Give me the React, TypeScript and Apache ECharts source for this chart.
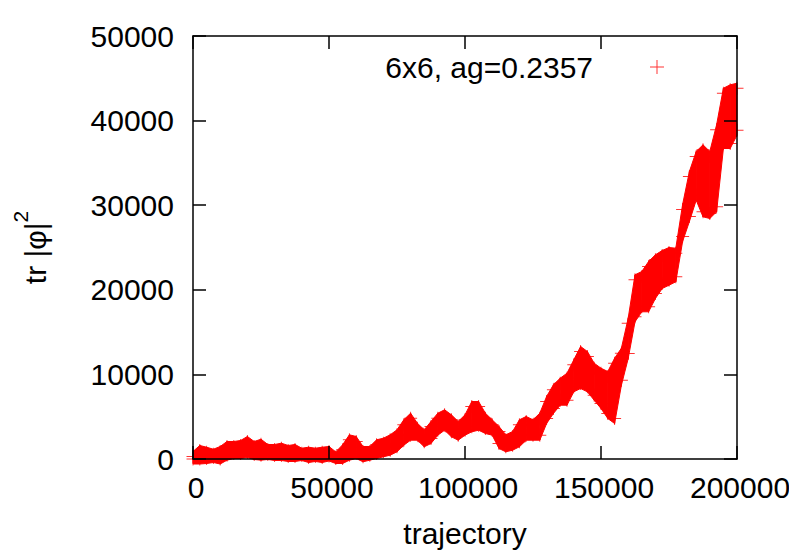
import React, { useEffect, useRef } from "react";
import * as echarts from "echarts";

// trajectory positions (x) sampled along the run
const trajectory = [
  0, 2500, 5000, 7500, 10000, 12500, 15000, 17500, 20000, 22500,
  25000, 27500, 30000, 32500, 35000, 37500, 40000, 42500, 45000, 47500,
  50000, 52500, 55000, 57500, 60000, 62500, 65000, 67500, 70000, 72500,
  75000, 77500, 80000, 82500, 85000, 87500, 90000, 92500, 95000, 97500,
  100000, 102500, 105000, 107500, 110000, 112500, 115000, 117500, 120000, 122500,
  125000, 127500, 130000, 132500, 135000, 137500, 140000, 142500, 145000, 147500,
  150000, 152500, 155000, 157500, 160000, 162500, 165000, 167500, 170000, 172500,
  175000, 177500, 180000, 182500, 185000, 187500, 190000, 192500, 195000, 197500,
  200000,
];

// upper envelope of tr|phi|^2 fluctuations
const upperValues = [
  300, 1005, 804, 567, 887, 1478, 1478, 1596, 2069, 1478,
  1749, 1123, 1123, 1277, 1005, 1123, 686, 804, 686, 804,
  887, 250, 1087, 2269, 2069, 887, 887, 1678, 1868, 2269,
  2860, 4042, 4823, 3641, 2860, 3842, 4823, 5224, 4633, 3842,
  4633, 6205, 6205, 4823, 4042, 3250, 2269, 2660, 4042, 4433,
  4042, 4823, 6797, 8179, 8960, 9551, 11134, 12707, 12116, 10733,
  10142, 9752, 11324, 12506, 16052, 21181, 21572, 22754, 23545, 24054,
  24408, 24326, 29491, 33392, 35756, 36547, 35756, 38911, 43238, 43639,
  43829,
];

// lower envelope of tr|phi|^2 fluctuations
const lowerValues = [
  0, 0, 59, 177, 0, 449, 650, 650, 768, 532,
  449, 532, 414, 414, 296, 296, 414, 177, 296, 177,
  355, 59, 59, 449, 650, 260, 449, 650, 851, 1040,
  1442, 2222, 2813, 2813, 2033, 2423, 3404, 3995, 3215, 2813,
  3404, 3806, 3995, 3605, 3404, 1832, 1442, 1631, 2033, 2813,
  2813, 2813, 4787, 5969, 6950, 6950, 8534, 8924, 8534, 7541,
  6560, 5378, 4787, 9314, 12470, 16808, 17990, 17990, 19562, 20744,
  21134, 21536, 26300, 28664, 31181, 29219, 29018, 29810, 37292, 37292,
  38864,
];

const xTicks = [0, 50000, 100000, 150000, 200000];
const yTicks = [0, 10000, 20000, 30000, 40000, 50000];

const seriesName = "6x6, ag=0.2357";
const RED = "#ff0000";
const FONT = "'Liberation Sans', Arial, Helvetica, sans-serif";
const PLUS = "path://M0,6.5H14V7.5H0Z M6.5,0H7.5V14H6.5Z";

export default function App() {
  const ref = useRef<HTMLDivElement>(null);

  useEffect(() => {
    if (!ref.current) return;
    const chart = echarts.init(ref.current, null, { renderer: "svg" });

    const bandData = trajectory.map((x, i) => [x, lowerValues[i], upperValues[i]]);
    const pointData = trajectory
      .map((x, i) => [x, upperValues[i]])
      .concat(trajectory.map((x, i) => [x, lowerValues[i]]));

    const off = 5;
    const renderItem = (params: any, api: any) => {
      const i = params.dataIndex;
      if (i >= trajectory.length - 1) return null;
      const a = api.coord([trajectory[i], upperValues[i]]);
      const b = api.coord([trajectory[i + 1], upperValues[i + 1]]);
      const c = api.coord([trajectory[i + 1], lowerValues[i + 1]]);
      const d = api.coord([trajectory[i], lowerValues[i]]);
      return {
        type: "polygon",
        shape: {
          points: [
            [a[0], a[1] - off],
            [b[0], b[1] - off],
            [c[0], c[1] + off],
            [d[0], d[1] + off],
          ],
        },
        style: { fill: RED, stroke: RED, lineWidth: 1 },
      };
    };

    const mkLine = () => ({ show: true, onZero: false, lineStyle: { color: "#000", width: 1.5 } });
    const mkTick = () => ({ show: true, inside: true, length: 13, lineStyle: { color: "#000", width: 1.5 } });
    const xMin = xTicks[0];
    const xMax = xTicks[xTicks.length - 1];
    const xInt = xTicks[1] - xTicks[0];
    const yMin = yTicks[0];
    const yMax = yTicks[yTicks.length - 1];
    const yInt = yTicks[1] - yTicks[0];

    chart.setOption({
      animation: false,
      textStyle: { fontFamily: FONT },
      grid: {
        left: 193,
        right: 52,
        top: 36,
        bottom: 93,
        containLabel: false,
        outerBoundsMode: "none",
      },
      legend: {
        data: [{ name: seriesName, icon: PLUS }],
        right: 120,
        top: 47,
        align: "right",
        itemWidth: 14,
        itemHeight: 14,
        selectedMode: false,
        textStyle: { fontSize: 30, color: "#000", fontFamily: FONT, padding: [0, 52, 0, 0] },
      },
      xAxis: [
        {
          type: "value",
          position: "bottom",
          min: xMin,
          max: xMax,
          interval: xInt,
          axisLine: mkLine(),
          axisTick: mkTick(),
          splitLine: { show: false },
          axisLabel: {
            fontSize: 30,
            color: "#000",
            margin: 13,
            padding: [0, 0, 0, 6],
            formatter: (v: number) => String(v),
          },
          name: "trajectory",
          nameLocation: "middle",
          nameGap: 59,
          nameTextStyle: { fontSize: 30, color: "#000" },
          z: 10,
        },
        {
          type: "value",
          position: "top",
          min: xMin,
          max: xMax,
          interval: xInt,
          axisLine: mkLine(),
          axisTick: mkTick(),
          splitLine: { show: false },
          axisLabel: { show: false },
          z: 10,
        },
      ],
      yAxis: [
        {
          type: "value",
          position: "left",
          min: yMin,
          max: yMax,
          interval: yInt,
          axisLine: mkLine(),
          axisTick: mkTick(),
          splitLine: { show: false },
          axisLabel: {
            fontSize: 30,
            color: "#000",
            margin: 19,
            formatter: (v: number) => String(v),
          },
          name: "{m|tr |φ|}{s|2}",
          nameLocation: "middle",
          nameGap: 143,
          nameTextStyle: {
            color: "#000",
            rich: {
              m: { fontSize: 30, color: "#000", verticalAlign: "bottom", lineHeight: 30 },
              s: { fontSize: 21, color: "#000", verticalAlign: "bottom", lineHeight: 21, padding: [0, 0, 19, 0] },
            },
          },
          z: 10,
        },
        {
          type: "value",
          position: "right",
          min: yMin,
          max: yMax,
          interval: yInt,
          axisLine: mkLine(),
          axisTick: mkTick(),
          splitLine: { show: false },
          axisLabel: { show: false },
          z: 10,
        },
      ],
      series: [
        {
          type: "custom",
          name: "band",
          xAxisIndex: 0,
          yAxisIndex: 0,
          renderItem,
          data: bandData,
          encode: { x: 0, y: [1, 2] },
          clip: false,
          silent: true,
          z: 2,
        },
        {
          type: "scatter",
          name: seriesName,
          xAxisIndex: 0,
          yAxisIndex: 0,
          symbol: PLUS,
          symbolSize: 13,
          itemStyle: { color: RED },
          data: pointData,
          clip: false,
          silent: true,
          z: 3,
        },
      ],
    });

    return () => chart.dispose();
  }, []);

  return (
    <div
      ref={ref}
      style={{ position: "fixed", left: 0, top: 0, width: 789, height: 552, background: "#fff" }}
    />
  );
}
